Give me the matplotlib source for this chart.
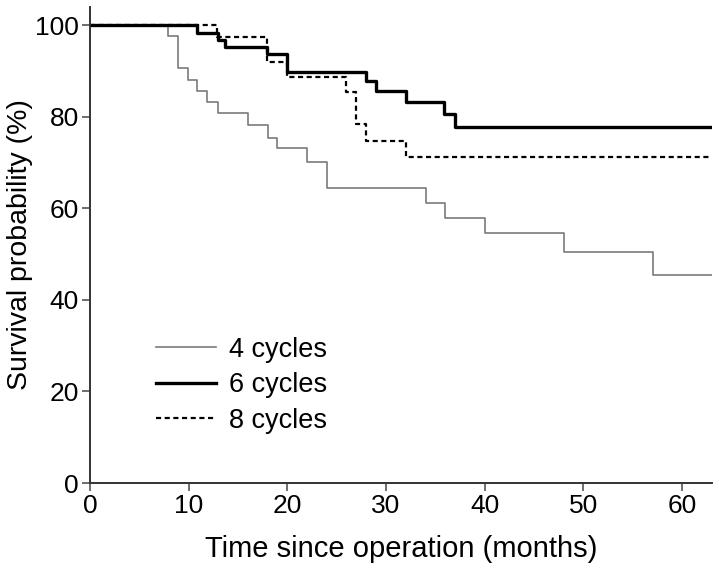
import matplotlib.pyplot as plt

plt.rcParams['font.family'] = ['Liberation Sans', 'DejaVu Sans']

# Kaplan-Meier step data (time in months, survival in %)
t4 = [0, 7.9, 8.9, 9.9, 10.9, 11.9, 13.0, 16.0, 18.0, 19.0, 22.0, 24.0, 34.0, 36.0, 40.0, 48.0, 57.0, 63]
s4 = [100, 97.6, 90.6, 88.0, 85.6, 83.3, 80.9, 78.2, 75.4, 73.1, 70.2, 64.4, 61.2, 57.9, 54.7, 50.4, 45.4, 45.4]

t6 = [0, 10.9, 13.0, 13.7, 17.9, 20.0, 28.0, 29.0, 32.0, 35.9, 37.0, 63]
s6 = [100, 98.3, 96.7, 95.2, 93.6, 89.8, 87.8, 85.6, 83.3, 80.5, 77.8, 77.8]

t8 = [0, 12.9, 17.9, 20.0, 25.9, 27.0, 28.0, 32.0, 63]
s8 = [100, 97.5, 91.9, 88.7, 85.4, 78.4, 74.7, 71.1, 71.1]

labels = ['4 cycles', '6 cycles', '8 cycles']

fig = plt.figure(figsize=(7.19, 5.69), dpi=100)
ax = fig.add_axes([0.125, 0.151, 0.865, 0.837])

ax.step(t4, s4, where='post', color='#7a7a7a', lw=1.2, label=labels[0])
ax.step(t6, s6, where='post', color='black', lw=2.4, label=labels[1])
ax.step(t8, s8, where='post', color='black', lw=1.6, dashes=(2.3, 1.6), label=labels[2])

ax.set_xlim(0, 63)
ax.set_ylim(0, 104)
ax.set_xticks([0, 10, 20, 30, 40, 50, 60])
ax.set_yticks([0, 20, 40, 60, 80, 100])

for side in ['top', 'right']:
    ax.spines[side].set_visible(False)
for side in ['left', 'bottom']:
    ax.spines[side].set_color('#333333')
    ax.spines[side].set_linewidth(1.4)
ax.tick_params(direction='out', length=6, width=1.2, color='#555555', labelsize=19, pad=2)

ax.set_xlabel('Time since operation (months)', fontsize=21, labelpad=12)
ax.set_ylabel('Survival probability (%)', fontsize=20.5, labelpad=1)

ax.legend(loc='upper left', bbox_to_anchor=(0.067, 0.358), frameon=False, fontsize=19.5,
          handlelength=2.2, handletextpad=0.5, labelspacing=0.35)

fig.savefig('out.png', dpi=100)
